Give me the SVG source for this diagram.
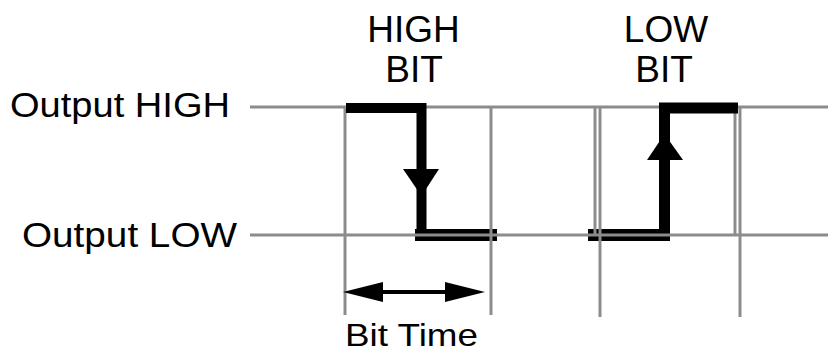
<svg xmlns="http://www.w3.org/2000/svg" width="828" height="352" viewBox="0 0 828 352">
<style>
  .lbl { font-family: "Liberation Sans", Arial, sans-serif; fill: #000; }
  .grid { stroke: #8c8c8c; stroke-width: 3; fill: none; }
  .sig { stroke: #000; fill: none; stroke-linecap: butt; stroke-linejoin: miter; }
  .head { fill: #000; stroke: none; }
</style>
<rect width="828" height="352" fill="#fff"/>
<g id="labels">
  <text class="lbl" x="10" y="117" font-size="35" textLength="220" lengthAdjust="spacingAndGlyphs">Output HIGH</text>
  <text class="lbl" x="22" y="247" font-size="35" textLength="215" lengthAdjust="spacingAndGlyphs">Output LOW</text>
  <text class="lbl" x="413.5" y="42" font-size="37" text-anchor="middle">HIGH</text>
  <text class="lbl" x="414" y="82" font-size="37" text-anchor="middle">BIT</text>
  <text class="lbl" x="666" y="42" font-size="37" text-anchor="middle">LOW</text>
  <text class="lbl" x="664" y="82" font-size="37" text-anchor="middle">BIT</text>
  <text class="lbl" x="345" y="346" font-size="32" textLength="133" lengthAdjust="spacingAndGlyphs">Bit Time</text>
</g>
<g id="bottom-segments">
  <rect x="415" y="229" width="82" height="12" fill="#000"/>
  <rect x="588" y="229" width="82" height="12" fill="#000"/>
</g>
<g id="grid">
  <line class="grid" x1="250" y1="107" x2="828" y2="107"/>
  <line class="grid" x1="250" y1="235" x2="828" y2="235"/>
  <line class="grid" x1="345" y1="107" x2="345" y2="315"/>
  <line class="grid" x1="491" y1="107" x2="491" y2="315"/>
  <line class="grid" x1="595" y1="107" x2="595" y2="235"/>
  <line class="grid" x1="600" y1="107" x2="600" y2="317"/>
  <line class="grid" x1="735" y1="107" x2="735" y2="235"/>
  <line class="grid" x1="740" y1="107" x2="740" y2="317"/>
</g>
<g id="high-bit">
  <path class="sig" stroke-width="10" d="M346,108 H421.5 V231"/>
  <polygon class="head" points="403,169 439,169 421.5,196"/>
</g>
<g id="low-bit">
  <path class="sig" stroke-width="11" d="M664.5,231 V108 H738"/>
  <polygon class="head" points="647,160 683,160 664.5,134"/>
</g>
<g id="connectors">
  <line x1="375" y1="292" x2="453" y2="292" stroke="#000" stroke-width="4"/>
  <polygon class="head" points="343,292 383,282 383,302"/>
  <polygon class="head" points="485,292 445,282 445,302"/>
</g>
</svg>
